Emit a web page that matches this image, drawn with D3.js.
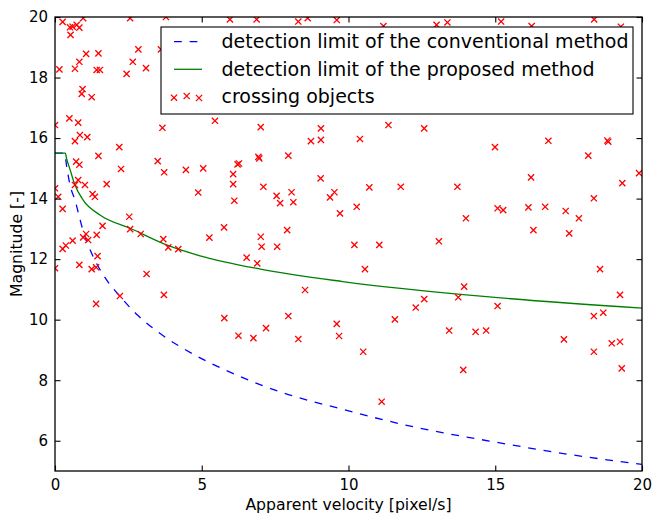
<!DOCTYPE html>
<html>
<head>
<meta charset="utf-8">
<script src="https://cdn.jsdelivr.net/npm/d3@7"></script>
<style>
  html, body { margin: 0; padding: 0; background: #fff; }
  svg { display: block; font-family: "DejaVu Sans", sans-serif; }
</style>
</head>
<body>
<svg id="chart" width="654" height="515"></svg>
<script>
// ---- data ----
const xTicks = [0, 5, 10, 15, 20];
const yTicks = [6, 8, 10, 12, 14, 16, 18, 20];

// detection limit of the conventional method
const convV = [0, 0.32, 0.4, 0.5, 0.68, 0.97, 1.3, 1.7, 2.27, 2.8, 3.5, 4.71, 6, 7.5, 9.75, 12.5, 14.8, 17.5, 20];
const convM = [15.5, 15.5, 15.05, 14.5, 13.95, 12.9, 12.08, 11.4, 10.71, 10.16, 9.6, 8.86, 8.25, 7.67, 7.05, 6.4, 5.99, 5.55, 5.22];

// detection limit of the proposed method
const propV = [0, 0.35, 0.4, 0.5, 0.68, 0.96, 1.53, 2.56, 3.8, 4.94, 7, 9.8, 14.7, 20];
const propM = [15.5, 15.5, 15.3, 15.0, 14.45, 13.95, 13.46, 13.02, 12.47, 12.11, 11.67, 11.26, 10.76, 10.38];

// crossing objects
const objV = [0.26, 0.51, 0.60, 0.74, 0.83, 0.53, 0.96, 2.56, 3.78, 1.06, 1.48, 2.84, 0.83, 2.65, 0.15, 0.68, 1.42, 1.53, 2.44, 3.10,
  0.94, 0.91, 1.25, 3.61, 0.49, 0.79, 0.0, 3.66, 0.85, 1.10, 0.68, 2.19, 1.48, 3.50, 0.72, 0.83, 2.25, 3.72, 4.46, 0.0,
  0.79, 0.68, 1.02, 1.76, 0.11, 1.28, 1.36, 4.88, 0.26, 2.53, 1.62, 2.56, 2.92, 1.06, 0.96, 1.13, 1.42, 0.60, 0.37, 0.26,
  3.69, 3.86, 4.20, 1.45, 0.0, 0.83, 1.25, 1.40, 3.12, 2.21, 3.71, 1.40, 5.96, 6.87, 8.29, 8.61, 9.60, 5.45, 7.01, 9.06,
  8.72, 9.06, 6.93, 6.96, 7.95, 6.22, 6.27, 5.05, 6.07, 6.07, 7.10, 6.11, 7.55, 7.67, 8.06, 8.12, 9.05, 9.37, 9.52, 9.71,
  5.76, 5.26, 7.01, 7.04, 7.57, 7.91, 6.53, 6.89, 8.52, 5.77, 7.95, 9.60, 6.25, 6.76, 7.19, 8.29, 9.68, 11.19, 13.00, 13.37,
  11.36, 12.58, 10.39, 10.71, 11.78, 13.71, 10.28, 14.00, 10.20, 11.05, 13.08, 10.56, 13.94, 12.58, 13.74, 12.29, 11.58, 10.50, 13.43, 14.33,
  14.69, 13.91, 11.13, 15.20, 16.24, 18.37, 19.28, 14.99, 16.81, 18.17, 18.82, 18.85, 16.22, 19.90, 19.33, 15.08, 15.27, 16.13, 16.70, 17.40,
  18.36, 17.85, 16.30, 17.52, 18.57, 19.25, 15.08, 18.36, 18.68, 17.34, 18.36, 18.97, 19.25, 19.31];
const objM = [19.84, 19.66, 19.68, 19.74, 19.65, 19.41, 19.96, 19.96, 20.0, 18.78, 18.80, 18.93, 18.52, 18.52, 18.27, 18.29, 18.25, 18.25, 18.12, 18.31,
  17.62, 17.46, 17.35, 18.93, 16.65, 16.51, 16.43, 16.34, 16.10, 16.03, 15.90, 15.70, 15.41, 15.24, 15.22, 15.12, 14.98, 14.87, 14.95, 14.34,
  14.61, 14.45, 14.45, 14.48, 14.06, 14.15, 14.06, 14.20, 13.66, 13.40, 13.10, 12.99, 12.83, 12.83, 12.72, 12.63, 12.80, 12.61, 12.45, 12.34,
  12.66, 12.39, 12.33, 12.10, 11.70, 11.81, 11.67, 11.73, 11.51, 10.78, 10.82, 10.52, 19.92, 19.92, 19.85, 19.96, 19.90, 16.57, 16.36, 16.32,
  15.90, 15.94, 15.38, 15.33, 15.42, 15.13, 15.16, 15.00, 14.81, 14.48, 14.39, 13.93, 14.09, 13.85, 14.21, 13.88, 14.67, 14.04, 14.21, 13.51,
  13.05, 12.71, 12.74, 12.41, 12.41, 12.96, 12.05, 11.86, 10.98, 10.05, 10.12, 9.86, 9.47, 9.39, 9.72, 9.36, 9.46, 19.70, 19.74, 19.82,
  16.43, 16.32, 15.97, 14.37, 14.39, 14.39, 13.73, 13.35, 12.47, 12.47, 12.59, 11.67, 11.09, 10.68, 10.74, 10.40, 10.01, 8.94, 9.64, 9.60,
  9.64, 8.34, 7.29, 19.85, 19.70, 19.92, 19.68, 15.70, 15.91, 15.42, 15.92, 15.88, 14.70, 14.84, 14.51, 13.68, 13.62, 13.71, 13.73, 13.59,
  14.01, 13.35, 12.96, 12.85, 11.67, 10.82, 10.45, 10.12, 10.23, 9.35, 8.94, 9.22, 9.27, 8.39];

const legendLabels = ["detection limit of the conventional method", "detection limit of the proposed method", "crossing objects"];
const xLabel = "Apparent velocity [pixel/s]";
const yLabel = "Magnitude [-]";

// ---- layout ----
const W = 654, H = 515;
const L = 55, R = 642, T = 17, B = 471;
const svg = d3.select("#chart");
const x = d3.scaleLinear().domain([0, 20]).range([L, R]);
const y = d3.scaleLinear().domain([5, 20]).range([B, T]);

const fontTick = 15, fontLabel = 15.7, fontLegend = 19;
const tickLen = 5.5;

svg.append("defs").append("clipPath").attr("id", "clip")
  .append("rect").attr("x", L).attr("y", T).attr("width", R - L).attr("height", B - T);

const plot = svg.append("g").attr("clip-path", "url(#clip)");

// lines
const lineGen = d3.line().x(d => x(d[0])).y(d => y(d[1])).curve(d3.curveMonotoneX);
plot.append("path").datum(convV.map((v, i) => [v, convM[i]]))
  .attr("d", lineGen).attr("fill", "none").attr("stroke", "#0000ff")
  .attr("stroke-width", 1.3).attr("stroke-dasharray", "7.8,7.8");
plot.append("path").datum(propV.map((v, i) => [v, propM[i]]))
  .attr("d", lineGen).attr("fill", "none").attr("stroke", "#008000")
  .attr("stroke-width", 1.3);

// markers
const ms = 3.1;
function xMark(g, cx, cy) {
  g.append("path")
    .attr("d", `M${cx - ms},${cy - ms}L${cx + ms},${cy + ms}M${cx - ms},${cy + ms}L${cx + ms},${cy - ms}`)
    .attr("stroke", "#ff0000").attr("stroke-width", 1.3).attr("fill", "none");
}
const pts = objV.map((v, i) => [v, objM[i]]);
plot.append("g").selectAll("path").data(pts).join("path")
  .attr("d", d => { const cx = x(d[0]), cy = y(d[1]); return `M${cx - ms},${cy - ms}L${cx + ms},${cy + ms}M${cx - ms},${cy + ms}L${cx + ms},${cy - ms}`; })
  .attr("stroke", "#ff0000").attr("stroke-width", 1.3).attr("fill", "none");

// axes
function styleAxis(g) {
  g.select(".domain").remove();
  g.selectAll(".tick line").attr("stroke", "#000").attr("stroke-width", 1.1);
  g.selectAll(".tick text").attr("fill", "#000").attr("font-size", fontTick).attr("font-family", "DejaVu Sans, sans-serif");
}
svg.append("g").attr("transform", `translate(0,${B})`)
  .call(d3.axisBottom(x).tickValues(xTicks).tickFormat(d3.format("d")).tickSize(-tickLen).tickPadding(8))
  .call(styleAxis);
svg.append("g").attr("transform", `translate(0,${T})`)
  .call(d3.axisTop(x).tickValues(xTicks).tickFormat("").tickSize(-tickLen))
  .call(styleAxis);
svg.append("g").attr("transform", `translate(${L},0)`)
  .call(d3.axisLeft(y).tickValues(yTicks).tickFormat(d3.format("d")).tickSize(-tickLen).tickPadding(7))
  .call(styleAxis);
svg.append("g").attr("transform", `translate(${R},0)`)
  .call(d3.axisRight(y).tickValues(yTicks).tickFormat("").tickSize(-tickLen))
  .call(styleAxis);

// frame
svg.append("rect").attr("x", L).attr("y", T).attr("width", R - L).attr("height", B - T)
  .attr("fill", "none").attr("stroke", "#000").attr("stroke-width", 1.3);

// axis labels
svg.append("text").attr("x", (L + R) / 2).attr("y", 510).attr("text-anchor", "middle")
  .attr("font-size", fontLabel).text(xLabel);
svg.append("text").attr("transform", `translate(22,${(T + B) / 2}) rotate(-90)`).attr("text-anchor", "middle")
  .attr("font-size", fontLabel).text(yLabel);

// legend
const lg = svg.append("g");
lg.append("rect").attr("x", 161).attr("y", 27).attr("width", 472).attr("height", 87)
  .attr("fill", "#fff").attr("stroke", "#000").attr("stroke-width", 1.1);
const rowsY = [41.7, 69.3, 96.7];
lg.append("line").attr("x1", 174).attr("x2", 202).attr("y1", rowsY[0]).attr("y2", rowsY[0])
  .attr("stroke", "#0000ff").attr("stroke-width", 1.3).attr("stroke-dasharray", "7.8,7.8");
lg.append("line").attr("x1", 174).attr("x2", 202).attr("y1", rowsY[1]).attr("y2", rowsY[1])
  .attr("stroke", "#008000").attr("stroke-width", 1.3);
xMark(lg, 174, rowsY[2] + 1);
xMark(lg, 186.7, rowsY[2] - 0.7);
xMark(lg, 199, rowsY[2] + 1.3);
legendLabels.forEach((t, i) => {
  lg.append("text").attr("x", 221.5).attr("y", rowsY[i]).attr("dy", "0.35em")
    .attr("font-size", fontLegend).attr("fill", "#000").text(t);
});
</script>
</body>
</html>
